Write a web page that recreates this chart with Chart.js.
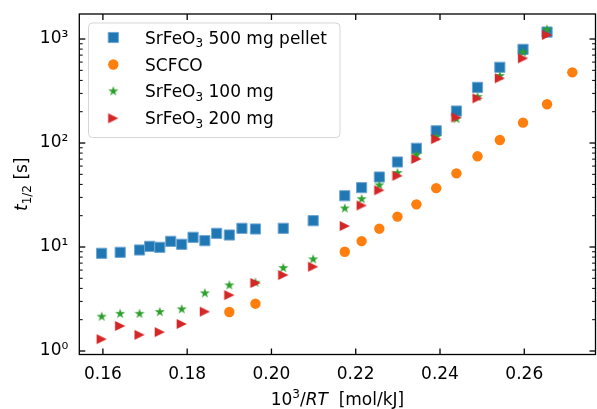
<!DOCTYPE html>
<html><head><meta charset="utf-8">
<script src="https://cdn.jsdelivr.net/npm/chart.js@4/dist/chart.umd.min.js"></script>
<style>html,body{margin:0;padding:0;background:#fff;overflow:hidden}</style>
</head><body><canvas id="c" width="597" height="409"></canvas>
<script>
// ---- data ----
const X_BLUE = [0.1597,0.1641,0.1687,0.1711,0.1735,0.1761,0.1787,0.1814,0.1842,0.1870,0.1900,0.1930,0.1962,0.2028,0.2099,0.2174,0.2214,0.2256,0.2299,0.2344,0.2391,0.2439,0.2489,0.2542,0.2597,0.2654];
const Y_BLUE = [8.70,8.89,9.36,10.15,9.93,11.34,10.62,12.40,11.50,13.54,13.04,15.13,14.90,15.13,17.90,31.1,37.2,47.1,65.7,89.0,131,203,343,535,796,1167];
const X_ORANGE = [0.1900,0.1962,0.2174,0.2214,0.2256,0.2299,0.2344,0.2391,0.2439,0.2489,0.2542,0.2597,0.2654,0.2714];
const Y_ORANGE = [2.37,2.85,9.01,11.4,15.0,19.6,25.7,36.8,51.1,74.5,107,157,236,478];
const X_GREEN = [0.1597,0.1641,0.1687,0.1735,0.1787,0.1842,0.1900,0.1962,0.2028,0.2099,0.2174,0.2214,0.2256,0.2299,0.2344,0.2391,0.2439,0.2489,0.2542,0.2597,0.2654];
const Y_GREEN = [2.14,2.28,2.28,2.37,2.52,3.59,4.28,4.54,6.28,7.61,23.5,28.9,39.2,51.5,76.7,114,170,277,441,742,1234];
const X_RED = [0.1597,0.1641,0.1687,0.1735,0.1787,0.1842,0.1900,0.1962,0.2028,0.2099,0.2174,0.2214,0.2256,0.2299,0.2344,0.2391,0.2439,0.2489,0.2542,0.2597,0.2654];
const Y_RED = [1.30,1.74,1.43,1.52,1.82,2.39,3.45,4.51,5.38,6.46,15.9,25.1,35.1,48.4,70.2,109,176,269,419,652,1093];
const LABELS = ['SrFeO₃ 500 mg pellet','SCFCO','SrFeO₃ 100 mg','SrFeO₃ 200 mg'];
const XTICKS = [0.16,0.18,0.20,0.22,0.24,0.26];
const YTICKS = [1,10,100,1000];
const YTICK_LABELS = ['10⁰','10¹','10²','10³'];

const FONT = "'DejaVu Sans', sans-serif";
const C = {blue:'#1f77b4', orange:'#ff7f0e', green:'#2ca02c', red:'#d62728'};

function pts(xs, ys){ return xs.map((v,i)=>({x:v, y:ys[i]})); }

function starCanvas(color){
  const cv=document.createElement('canvas'); cv.width=14; cv.height=14;
  const g=cv.getContext('2d'); const R=5.3, r=R*0.381966;
  g.beginPath();
  for(let k=0;k<10;k++){
    const a=-Math.PI/2+k*Math.PI/5, rr=(k%2===0)?R:r;
    const px=7+rr*Math.cos(a), py=7+rr*Math.sin(a);
    if(k===0) g.moveTo(px,py); else g.lineTo(px,py);
  }
  g.closePath(); g.fillStyle=color; g.fill();
  return cv;
}
function triCanvas(color){
  const cv=document.createElement('canvas'); cv.width=12; cv.height=12;
  const g=cv.getContext('2d'); const h=5.1;
  g.beginPath(); g.moveTo(6+h,6); g.lineTo(6-h,6-h); g.lineTo(6-h,6+h); g.closePath();
  g.fillStyle=color; g.fill();
  return cv;
}

const STAR = starCanvas(C.green);
const TRI = triCanvas(C.red);

// ---- rich text helper (sub/superscripts, italics) ----
const SUBS = {'₀':'0','₁':'1','₂':'2','₃':'3','₄':'4','₅':'5','₆':'6','₇':'7','₈':'8','₉':'9'};
function parseLabel(s){
  const segs=[]; let cur='';
  for(const ch of s){
    if(SUBS[ch]){ if(cur){segs.push({t:cur}); cur='';} segs.push({t:SUBS[ch], sub:true}); }
    else cur+=ch;
  }
  if(cur) segs.push({t:cur});
  return segs;
}
function segFont(s){ const sz=(s.sub||s.sup)?12:17; return (s.i?'italic ':'')+sz+'px '+FONT; }
function richWidth(ctx, segs){ let w=0; segs.forEach(s=>{ctx.font=segFont(s); w+=ctx.measureText(s.t).width;}); return w; }
function drawRich(ctx, segs, x, y){
  ctx.textBaseline='alphabetic'; ctx.textAlign='left';
  segs.forEach(s=>{
    ctx.font=segFont(s);
    const dy = s.sub?3.5:(s.sup?-7:0);
    ctx.fillText(s.t, x, y+dy);
    x+=ctx.measureText(s.t).width;
  });
}

const decor = {
  id:'decor',
  afterDatasetsDraw(chart){
    const {ctx, chartArea:a, scales:{x, y}} = chart;
    ctx.save();
    ctx.strokeStyle='#000';
    const ln=(x1,y1,x2,y2)=>{ctx.beginPath();ctx.moveTo(x1,y1);ctx.lineTo(x2,y2);ctx.stroke();};
    ctx.lineWidth=1.3;
    XTICKS.forEach(v=>{const p=x.getPixelForValue(v); ln(p,a.bottom,p,a.bottom-6); ln(p,a.top,p,a.top+6);});
    YTICKS.forEach(v=>{const p=y.getPixelForValue(v); ln(a.left,p,a.left+6,p); ln(a.right,p,a.right-6,p);});
    ctx.lineWidth=1;
    for(let k=-1;k<=3;k++){
      for(let m=2;m<=9;m++){
        const v=m*Math.pow(10,k);
        if(v<y.min||v>y.max) continue;
        const p=y.getPixelForValue(v);
        ln(a.left,p,a.left+3.4,p); ln(a.right,p,a.right-3.4,p);
      }
    }
    ctx.lineWidth=1.3;
    ctx.strokeRect(a.left,a.top,a.right-a.left,a.bottom-a.top);

    // legend
    const lx=88.5, ly=23, lw=251.5, lh=114.5, rr=4;
    ctx.beginPath();
    ctx.moveTo(lx+rr,ly); ctx.lineTo(lx+lw-rr,ly); ctx.quadraticCurveTo(lx+lw,ly,lx+lw,ly+rr);
    ctx.lineTo(lx+lw,ly+lh-rr); ctx.quadraticCurveTo(lx+lw,ly+lh,lx+lw-rr,ly+lh);
    ctx.lineTo(lx+rr,ly+lh); ctx.quadraticCurveTo(lx,ly+lh,lx,ly+lh-rr);
    ctx.lineTo(lx,ly+rr); ctx.quadraticCurveTo(lx,ly,lx+rr,ly); ctx.closePath();
    ctx.fillStyle='rgba(255,255,255,0.8)'; ctx.fill();
    ctx.strokeStyle='rgba(204,204,204,0.8)'; ctx.lineWidth=1; ctx.stroke();
    const rows=[37.5,64.5,91.3,118.3];
    chart.data.datasets.forEach((ds,i)=>{
      const my=rows[i];
      ctx.fillStyle=ds.backgroundColor; ctx.strokeStyle=ds.borderColor;
      Chart.helpers.drawPoint(ctx,{pointStyle:ds.pointStyle,radius:ds.pointRadius,rotation:0,borderWidth:ds.borderWidth},113.3,my);
      ctx.fillStyle='#000';
      drawRich(ctx, parseLabel(ds.label), 145, my+6);
    });

    // axis titles
    ctx.fillStyle='#000';
    const xt=[{t:'10'},{t:'3',sup:true},{t:'/'},{t:'RT',i:true},{t:'  [mol/kJ]'}];
    const cx=(a.left+a.right)/2;
    drawRich(ctx, xt, cx-richWidth(ctx,xt)/2, 405);
    const yt=[{t:'t',i:true},{t:'1/2',sub:true},{t:' [s]'}];
    const cy=(a.top+a.bottom)/2;
    ctx.save(); ctx.translate(27,cy); ctx.rotate(-Math.PI/2);
    drawRich(ctx, yt, -richWidth(ctx,yt)/2, 0);
    ctx.restore();
    ctx.restore();
  }
};

function noPad(s){ s.paddingTop=0; s.paddingBottom=0; s.paddingLeft=0; s.paddingRight=0; }

new Chart(document.getElementById('c'),{
  type:'scatter',
  data:{datasets:[
    {label:LABELS[0], data:pts(X_BLUE,Y_BLUE), pointStyle:'rect', pointRadius:7.2, backgroundColor:C.blue, borderColor:'#6fa6d3', borderWidth:1, order:4},
    {label:LABELS[1], data:pts(X_ORANGE,Y_ORANGE), pointStyle:'circle', pointRadius:5.2, backgroundColor:C.orange, borderColor:C.orange, borderWidth:0, order:3},
    {label:LABELS[2], data:pts(X_GREEN,Y_GREEN), pointStyle:STAR, pointRadius:5, backgroundColor:C.green, borderColor:C.green, borderWidth:0, order:2},
    {label:LABELS[3], data:pts(X_RED,Y_RED), pointStyle:TRI, pointRadius:5, backgroundColor:C.red, borderColor:C.red, borderWidth:0, order:1}
  ]},
  options:{
    responsive:false, animation:false, devicePixelRatio:1,
    layout:{autoPadding:false, padding:{top:14,right:1.5,left:0,bottom:0}},
    plugins:{legend:{display:false}, tooltip:{enabled:false}},
    events:[],
    scales:{
      x:{type:'linear', position:'bottom', min:0.1544, max:0.2769,
        grid:{display:false, drawTicks:false}, border:{display:false},
        afterBuildTicks:(s)=>{s.ticks=XTICKS.map(v=>({value:v}));},
        afterFit:(s)=>{s.height=54.5; noPad(s);},
        ticks:{autoSkip:false, maxRotation:0, padding:10, color:'#000', font:{family:FONT,size:17},
          callback:(v)=>Number(v).toFixed(2)}},
      y:{type:'logarithmic', position:'left', min:0.9254, max:1740,
        grid:{display:false, drawTicks:false}, border:{display:false},
        afterBuildTicks:(s)=>{s.ticks=YTICKS.map(v=>({value:v}));},
        afterFit:(s)=>{s.width=79.3; noPad(s);},
        ticks:{autoSkip:false, padding:11, color:'#000', font:{family:FONT,size:17},
          callback:(v)=>{const i=YTICKS.indexOf(v); return i>=0?YTICK_LABELS[i]:'';}}}
    }
  },
  plugins:[decor]
});
</script></body></html>
